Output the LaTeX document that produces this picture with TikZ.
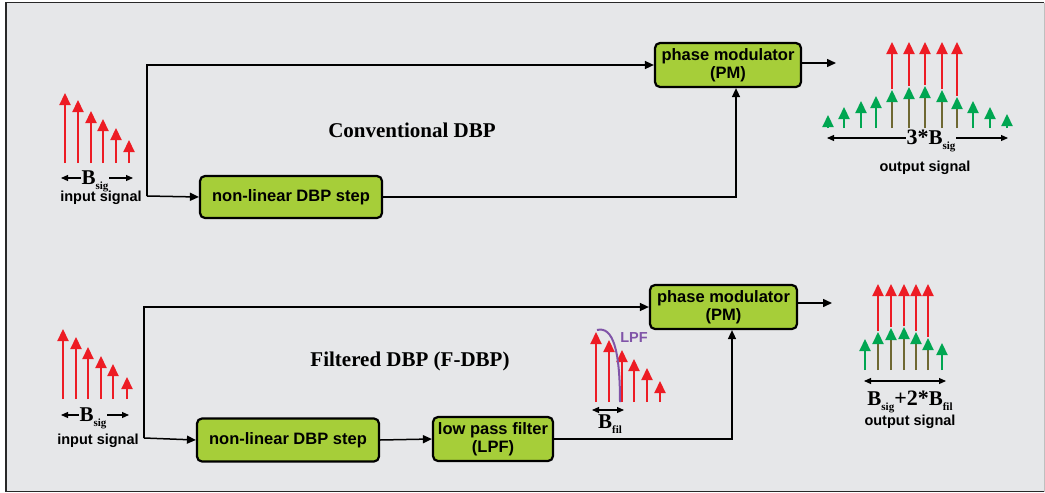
\documentclass[tikz,border=0pt]{standalone}
\usepackage{fontspec}
\setmainfont{Liberation Sans}
\newfontfamily\serifbold{Liberation Serif}[BoldFont={* Bold}]
\usetikzlibrary{arrows.meta}

\definecolor{panelgrey}{RGB}{230,231,233}
\definecolor{framegrey}{RGB}{40,40,40}
\definecolor{boxgreen}{RGB}{166,206,57}
\definecolor{sigred}{RGB}{237,28,36}
\definecolor{siggreen}{RGB}{0,166,81}
\definecolor{mixolive}{RGB}{110,104,50}
\definecolor{lpfpurple}{RGB}{128,84,168}

\newcommand{\Bsub}[1]{{\serifbold\bfseries\fontsize{21}{21}\selectfont B}\raisebox{-5pt}{\serifbold\bfseries\fontsize{11}{11}\selectfont #1}}

\begin{document}
\begin{tikzpicture}[x=1pt,y=-1pt,
  blockbox/.style={draw=black, line width=2.2pt, fill=boxgreen, rounded corners=5pt,
    font=\bfseries\fontsize{16.5}{17.5}\selectfont, align=center, inner sep=0pt},
  wire/.style={line width=1.5pt, -{Triangle[width=8pt,length=9pt]}},
  spec/.style={line width=2.2pt, -{Triangle[width=11pt,length=12pt]}},
  span/.style={line width=1.1pt, {Triangle[width=6pt,length=7pt]}-{Triangle[width=6pt,length=7pt]}},
  caption/.style={font=\bfseries\fontsize{14.5}{15}\selectfont, inner sep=1pt},
  title/.style={font=\serifbold\bfseries\fontsize{21}{22}\selectfont, inner sep=0pt},
  bandlabel/.style={fill=panelgrey, inner sep=1pt}
]
\useasboundingbox (0,0) rectangle (1045,493);

% panel
\fill[panelgrey] (6,2.5) rectangle (1044,491.5);
\draw[framegrey, line width=1.6pt] (1044,2.5) -- (6,2.5) -- (6,491.5) -- (1044,491.5);
\draw[black!25, line width=0.8pt] (1044,2.5) -- (1044,491.5);

%================ Conventional DBP ================
% input spectrum
\foreach \x/\t in {65/93, 78/100, 91/111, 103/119, 116/128, 129/140}
  \draw[spec, sigred] (\x,163) -- (\x,\t);
\draw[span] (61,178) -- (133,178);
\node[bandlabel] (bsig1) at (95,181) {\Bsub{sig}};
\node[caption] (in1) at (101,198) {input signal};

% blocks
\node[blockbox, minimum width=182pt, minimum height=42pt] (nl1) at (291,197) {non-linear DBP step};
\node[blockbox, minimum width=146pt, minimum height=44pt] (pm1) at (728,65) {phase modulator\\(PM)};
\node[title] (t1) at (412,130) {Conventional DBP};

% wiring
\coordinate (j1) at (147,196);
\draw[wire] (j1) |- (pm1.west);
\draw[wire] (j1) -- (nl1.west);
\draw[wire] (nl1.east) -| ([xshift=8pt]pm1.south);
\coordinate (o1) at (836,63);
\draw[wire] (pm1.east |- o1) -- (o1);

% output spectrum
\foreach \x/\t in {828/115, 844/107, 861/101, 876/96, 973/101, 990/107, 1007/114}
  \draw[spec, siggreen] (\x,128) -- (\x,\t);
\foreach \x/\t in {892/90, 909/87, 925/86, 942/90, 957/97}{
  \draw[spec, sigred] (\x,\t-1) -- (\x,42);
  \draw[line width=2.2pt, mixolive] (\x,128) -- (\x,\t+8);
  \draw[spec, siggreen] (\x,\t+8) -- (\x,\t);
}
\draw[span] (827,138) -- (1008,138);
\node[bandlabel] (bsig2) at (931,141) {{\serifbold\bfseries\fontsize{22}{22}\selectfont 3*}\Bsub{sig}};
\node[caption] (out1) at (925,168) {output signal};

%================ Filtered DBP ================
% input spectrum
\foreach \x/\t in {63/329, 76/337, 88/347, 101/356, 113/364, 127/377}
  \draw[spec, sigred] (\x,399) -- (\x,\t);
\draw[span] (61,415) -- (129,415);
\node[bandlabel] (bsig3) at (93,418) {\Bsub{sig}};
\node[caption] (in2) at (98,441) {input signal};

% blocks
\node[blockbox, minimum width=182pt, minimum height=43pt] (nl2) at (288,440) {non-linear DBP step};
\node[blockbox, minimum width=120pt, minimum height=44pt] (lpf) at (493,439) {low pass filter\\(LPF)};
\node[blockbox, minimum width=147pt, minimum height=44pt] (pm2) at (723.5,307) {phase modulator\\(PM)};
\node[title] (t2) at (410,361) {Filtered DBP (F-DBP)};

% wiring
\coordinate (j2) at (144,438);
\draw[wire] (j2) |- (pm2.west);
\draw[wire] (j2) -- (nl2.west);
\draw[wire] (nl2.east) -- (lpf.west);
\draw[wire] (lpf.east) -| ([xshift=8.5pt]pm2.south);
\coordinate (o2) at (832,303);
\draw[wire] (pm2.east |- o2) -- (o2);

% filtered spectrum with the LPF response
\foreach \x/\t in {596/332, 609/340, 622/350, 634/359, 647/368, 660/381}
  \draw[spec, sigred] (\x,402) -- (\x,\t);
\draw[lpfpurple, line width=2pt] (597,330) .. controls (613,326) and (620,350) .. (620,402);
\node[font=\bfseries\fontsize{14.5}{15}\selectfont, text=lpfpurple, inner sep=0pt] (lpflabel) at (634,338) {LPF};
\draw[span] (592,410) -- (624,410);
\node[inner sep=0pt] (bfil) at (610,424) {\Bsub{fil}};

% output spectrum
\foreach \x/\t in {865/339, 942/343}
  \draw[spec, siggreen] (\x,370) -- (\x,\t);
\foreach \x/\t in {878/332, 891/328, 904/327, 916/332, 928/338}{
  \draw[spec, sigred] (\x,\t-1) -- (\x,284);
  \draw[line width=2.2pt, mixolive] (\x,370) -- (\x,\t+8);
  \draw[spec, siggreen] (\x,\t+8) -- (\x,\t);
}
\draw[span] (864,381) -- (946,381);
\node[inner sep=0pt] (bout) at (910,402) {\Bsub{sig}{\serifbold\bfseries\fontsize{22}{22}\selectfont +2*}\Bsub{fil}};
\node[caption] (out2) at (910,422) {output signal};
\end{tikzpicture}
\end{document}
